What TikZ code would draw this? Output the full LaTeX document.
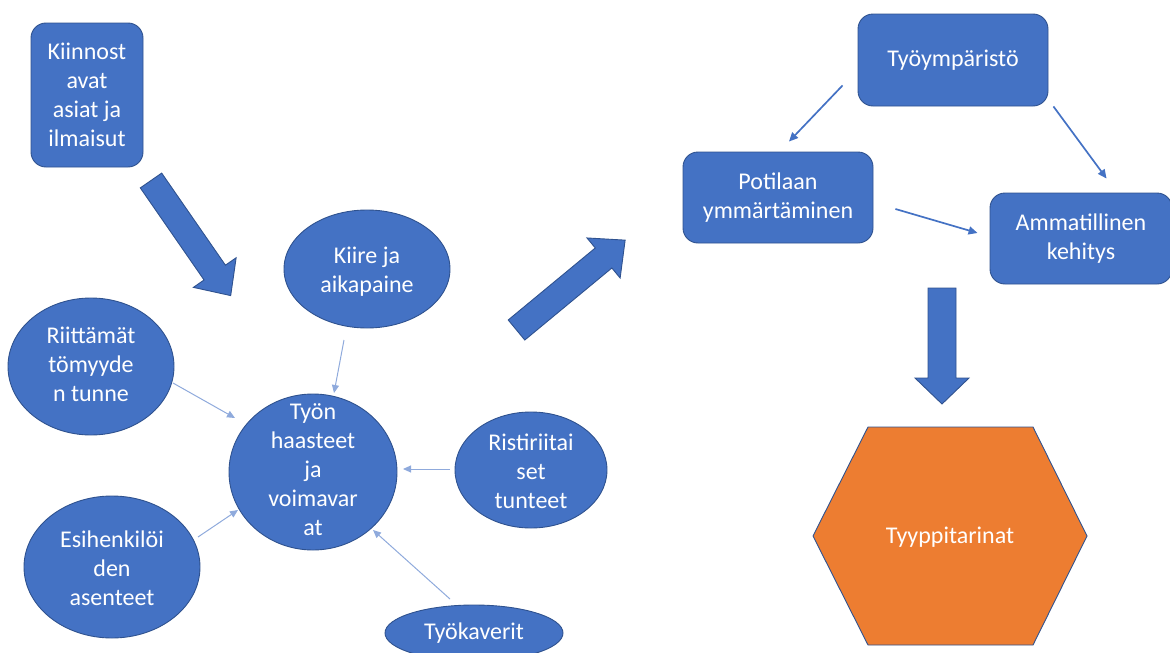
\documentclass[tikz,border=0pt]{standalone}
\usepackage{fontspec}
\setmainfont{Carlito}
\usetikzlibrary{calc,arrows.meta,shapes.geometric}
\definecolor{boxblue}{HTML}{4472C4}
\definecolor{edgeblue}{HTML}{2F528F}
\definecolor{lightarrow}{HTML}{8FAADC}
\definecolor{hexorange}{HTML}{ED7D31}
\tikzset{
  txt/.style={text=white, inner sep=0pt, align=center, font=\fontsize{24}{29}\selectfont},
  rbox/.style={txt, rectangle, rounded corners=15pt, fill=boxblue, draw=edgeblue, line width=0.9pt},
  oval/.style={ellipse, inner sep=0pt, fill=boxblue, draw=edgeblue, line width=0.9pt},
  thinarrow/.style={draw=lightarrow, line width=1pt, -{Triangle[length=8pt,width=7pt]}},
  thickarrow/.style={draw=boxblue, line width=1.7pt, -{Triangle[length=9pt,width=8pt]}},
  blockarrow/.style={fill=boxblue, draw=edgeblue, line width=0.9pt},
  hexshape/.style={fill=hexorange, draw=edgeblue, line width=0.9pt},
}
\begin{document}
\begin{tikzpicture}[x=1pt,y=-1pt]
\useasboundingbox (0,0) rectangle (1170,653);
\clip (0,0) rectangle (1170,653);

% left cluster
\node[rbox, minimum width=112pt, minimum height=144pt] (kiin) at (87,95) {Kiinnost\\avat\\asiat ja\\ilmaisut};

\node[oval, minimum width=166pt, minimum height=118pt] (kiire) at (367,269) {};
\node[txt] (kiiret) at (367,272) {Kiire ja\\aikapaine};

\node[oval, minimum width=168pt, minimum height=156pt] (tyon) at (313,472) {};
\node[txt] (tyont) at (313,470) {Työn\\haasteet\\ja\\voimavar\\at};

\node[oval, minimum width=166pt, minimum height=137pt] (riitt) at (91,366.5) {};
\node[txt] (riittt) at (91,364) {Riittämät\\tömyyde\\n tunne};

\node[oval, minimum width=176pt, minimum height=142pt] (esih) at (112,567) {};
\node[txt] (esiht) at (112,568) {Esihenkilöi\\den\\asenteet};

\node[oval, minimum width=152pt, minimum height=116pt] (rist) at (531,470) {};
\node[txt] (ristt) at (531,471) {Ristiriitai\\set\\tunteet};

\node[oval, minimum width=178pt, minimum height=56pt] (tyok) at (474,633) {};
\node[txt] (tyokt) at (474,633) {Työkaverit};

% thin arrows
\draw[thinarrow] ($(kiire.center)+(-23,71)$) -- ($(tyon.center)+(21,-79)$);
\draw[thinarrow] ($(riitt.center)+(82,16.5)$) -- ($(tyon.center)+(-78,-54)$);
\draw[thinarrow] ($(esih.center)+(86,-30)$) -- ($(tyon.center)+(-75,38)$);
\draw[thinarrow] ($(rist.center)+(-81,-1)$) -- ($(tyon.center)+(90,-3)$);
\draw[thinarrow] ($(tyok.center)+(-24,-34)$) -- ($(tyon.center)+(60,58)$);

% block arrows
\begin{scope}[shift={(151,180.5)}, rotate=-55.3]
  \draw[blockarrow] (0,-13) -- (112,-13) -- (112,-26) -- (140,0) -- (112,26) -- (112,13) -- (0,13) -- cycle;
\end{scope}
\begin{scope}[shift={(516.5,330)}, rotate=39.6]
  \draw[blockarrow] (0,-13) -- (113,-13) -- (113,-26) -- (141,0) -- (113,26) -- (113,13) -- (0,13) -- cycle;
\end{scope}
\begin{scope}[shift={(942,288)}, rotate=-90]
  \draw[blockarrow] (0,-14) -- (90,-14) -- (90,-27) -- (116,0) -- (90,27) -- (90,14) -- (0,14) -- cycle;
\end{scope}

% right cluster
\node[rbox, minimum width=190pt, minimum height=92pt] (tymp) at (953,60) {Työympäristö};
\node[rbox, minimum width=190pt, minimum height=91pt] (pot) at (778,197.5) {Potilaan\\ymmärtäminen};
\node[rbox, minimum width=182pt, minimum height=91pt] (amm) at (1081,238.5) {Ammatillinen\\kehitys};

\draw[thickarrow] ($(tymp.south west)+(-15,-21)$) -- ($(pot.north)+(11,-10)$);
\draw[thickarrow] ($(tymp.south east)+(5,0)$) -- ($(amm.north west)+(117,-14)$);
\draw[thickarrow] ($(pot.east)+(22,11.5)$) -- ($(amm.west)+(-12,-5.5)$);

% hexagon
\draw[hexshape] (868,427) -- (1033,427) -- (1087,536) -- (1033,645) -- (868,645) -- (813,536) -- cycle;
\node[txt] (tyyp) at (950,537) {Tyyppitarinat};
\end{tikzpicture}
\end{document}
